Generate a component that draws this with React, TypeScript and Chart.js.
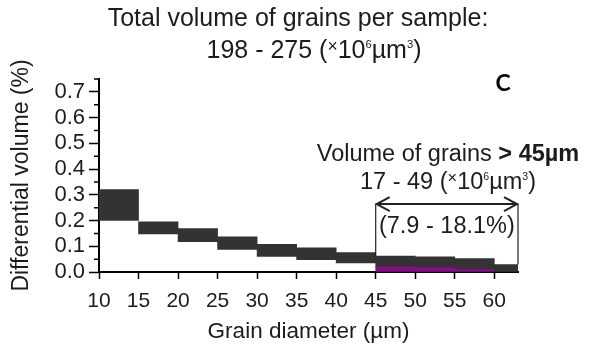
import React, { useEffect, useRef } from 'react';
import { Chart, registerables } from 'chart.js';

Chart.register(...registerables);

const FONT = '"Liberation Sans", Arial, Helvetica, sans-serif';
const TEXT = '#1c1c1c';

// Size bins (µm): each bin is 5 µm wide, plotted at its centre
const binCentres = [12.5, 17.5, 22.5, 27.5, 32.5, 37.5, 42.5, 47.5, 52.5, 57.5, 62.5];
// Range of differential volume (%) across samples
const rangeLow = [0.2, 0.148, 0.118, 0.088, 0.061, 0.048, 0.035, 0.022, 0.02, 0.012, 0];
const rangeHigh = [0.32, 0.195, 0.169, 0.137, 0.108, 0.094, 0.075, 0.062, 0.059, 0.052, 0.029];
// Lowest sample in the coarse fraction (> 45 µm)
const coarseCentres = [47.5, 52.5, 57.5];
const coarseLow = [0, 0, 0];
const coarseHigh = [0.022, 0.02, 0.012];

const xMin = 10;
const xMax = 63;
const xStep = 5;
const yMin = 0;
const yMax = 0.75;
const yStep = 0.1;
const yMinorTicks = [0.05, 0.15, 0.25, 0.35, 0.45, 0.55, 0.65, 0.75];
const thresholdSize = 45;
const arrowLevel = 0.264;

const TITLE_SIZE = 25;
const ANN_SIZE = 23.5;

type Seg = { t: string; k?: number; bold?: boolean; dy?: number };

function drawRich(ctx: CanvasRenderingContext2D, segs: Seg[], cx: number, baseline: number, size: number) {
  const fontOf = (s: Seg) => `${s.bold ? 'bold ' : ''}${(s.k ?? 1) * size}px ${FONT}`;
  let total = 0;
  for (const s of segs) {
    ctx.font = fontOf(s);
    total += ctx.measureText(s.t).width;
  }
  let x = cx - total / 2;
  ctx.textAlign = 'left';
  ctx.textBaseline = 'alphabetic';
  ctx.fillStyle = TEXT;
  for (const s of segs) {
    ctx.font = fontOf(s);
    ctx.fillText(s.t, x, baseline + (s.dy ?? 0) * size);
    x += ctx.measureText(s.t).width;
  }
}

const unitSegs = (lead: string): Seg[] => [
  { t: lead },
  { t: '×', k: 0.7, dy: -0.25 },
  { t: '10' },
  { t: '6', k: 0.45, dy: -0.4 },
  { t: 'µm' },
  { t: '3', k: 0.45, dy: -0.4 },
  { t: ')' },
];

const overlay = {
  id: 'overlay',
  afterDraw(chart: any) {
    const ctx: CanvasRenderingContext2D = chart.ctx;
    const xs = chart.scales.x;
    const ys = chart.scales.y;
    const area = chart.chartArea;
    ctx.save();

    // minor ticks on the y axis
    ctx.strokeStyle = '#000';
    ctx.lineWidth = 1.5;
    ctx.beginPath();
    for (const v of yMinorTicks) {
      const py = ys.getPixelForValue(v);
      ctx.moveTo(area.left - 5, py);
      ctx.lineTo(area.left, py);
    }
    ctx.stroke();

    // titles
    drawRich(ctx, [{ t: 'Total volume of grains per sample:' }], 298, 26, TITLE_SIZE);
    drawRich(ctx, unitSegs('198 - 275 ('), 314, 58, TITLE_SIZE);

    // panel letter
    ctx.font = 'bold 23px Lato, "Open Sans", sans-serif';
    ctx.fillStyle = '#000';
    ctx.textAlign = 'center';
    ctx.textBaseline = 'alphabetic';
    ctx.fillText('C', 503, 91);

    // annotation
    drawRich(ctx, [{ t: 'Volume of grains ' }, { t: '> 45µm', bold: true }], 448, 161, ANN_SIZE);
    drawRich(ctx, unitSegs('17 - 49 ('), 448, 189, ANN_SIZE);

    const iStart = binCentres.indexOf(thresholdSize + xStep / 2);
    const iLast = binCentres.length - 1;
    const xl = xs.getPixelForValue(thresholdSize);
    const xr = xs.getPixelForValue(xs.max);
    const ya = ys.getPixelForValue(arrowLevel);

    ctx.strokeStyle = '#222';
    ctx.lineWidth = 1.2;
    ctx.beginPath();
    ctx.moveTo(xl, ya);
    ctx.lineTo(xl, ys.getPixelForValue(rangeHigh[iStart]));
    ctx.moveTo(xr, ya);
    ctx.lineTo(xr, ys.getPixelForValue(rangeHigh[iLast]));
    ctx.stroke();

    ctx.lineWidth = 2;
    ctx.beginPath();
    ctx.moveTo(xl, ya);
    ctx.lineTo(xr, ya);
    ctx.moveTo(xl + 14, ya - 7);
    ctx.lineTo(xl + 1, ya);
    ctx.lineTo(xl + 14, ya + 7);
    ctx.moveTo(xr - 14, ya - 7);
    ctx.lineTo(xr - 1, ya);
    ctx.lineTo(xr - 14, ya + 7);
    ctx.stroke();

    drawRich(ctx, [{ t: '(7.9 - 18.1%)' }], (xl + xr) / 2, 233, ANN_SIZE);

    ctx.restore();
  },
};

export default function App() {
  const ref = useRef<HTMLCanvasElement>(null);

  useEffect(() => {
    const chart = new Chart(ref.current as HTMLCanvasElement, {
      type: 'bar',
      data: {
        datasets: [
          {
            label: 'Range of samples',
            data: binCentres.map((x, i) => ({ x, y: [rangeLow[i], rangeHigh[i]] })) as any,
            backgroundColor: '#333333',
            borderWidth: 0,
            grouped: false,
            barPercentage: 1,
            categoryPercentage: 1,
            clip: 0,
          } as any,
          {
            label: 'Coarse fraction',
            data: coarseCentres.map((x, i) => ({ x, y: [coarseLow[i], coarseHigh[i]] })) as any,
            backgroundColor: '#8b0a8b',
            borderWidth: 0,
            grouped: false,
            barPercentage: 1,
            categoryPercentage: 1,
            clip: 0,
          } as any,
        ],
      },
      options: {
        animation: false,
        responsive: true,
        maintainAspectRatio: false,
        devicePixelRatio: 1,
        layout: { padding: { top: 79, right: 82, bottom: 0, left: 0 } },
        plugins: {
          legend: { display: false },
          tooltip: { enabled: false },
          title: { display: false },
        },
        scales: {
          x: {
            type: 'linear',
            min: xMin,
            max: xMax,
            offset: false,
            grid: {
              display: true,
              offset: false,
              drawOnChartArea: false,
              drawTicks: true,
              tickLength: 7,
              tickWidth: 1.5,
              tickColor: '#000',
            },
            border: { display: true, color: '#000', width: 2 },
            ticks: {
              stepSize: xStep,
              includeBounds: false,
              autoSkip: false,
              maxRotation: 0,
              padding: 10,
              color: TEXT,
              font: { family: FONT, size: 21 },
              callback: (v: any) => String(v),
            },
            title: {
              display: true,
              text: 'Grain diameter (µm)',
              color: TEXT,
              font: { family: FONT, size: 22.5 },
              padding: { top: 0, bottom: 2 },
            },
            afterFit: (s: any) => {
              s.height = 75;
            },
          } as any,
          y: {
            type: 'linear',
            min: yMin,
            max: yMax,
            grid: {
              display: true,
              drawOnChartArea: false,
              drawTicks: true,
              tickLength: 10,
              tickWidth: 1.5,
              tickColor: '#000',
            },
            border: { display: true, color: '#000', width: 2 },
            ticks: {
              stepSize: yStep,
              includeBounds: false,
              autoSkip: false,
              padding: 4,
              color: TEXT,
              font: { family: FONT, size: 22 },
              callback: (v: any) => Number(v).toFixed(1),
            },
            title: {
              display: true,
              text: 'Differential volume (%)',
              color: TEXT,
              font: { family: FONT, size: 23 },
              padding: { top: 8, bottom: 0 },
            },
            afterFit: (s: any) => {
              s.width = 99;
            },
          } as any,
        },
      },
      plugins: [overlay],
    });
    return () => chart.destroy();
  }, []);

  return (
    <div style={{ position: 'absolute', left: 0, top: 0, width: 600, height: 347, background: '#fff' }}>
      <canvas ref={ref} />
    </div>
  );
}
